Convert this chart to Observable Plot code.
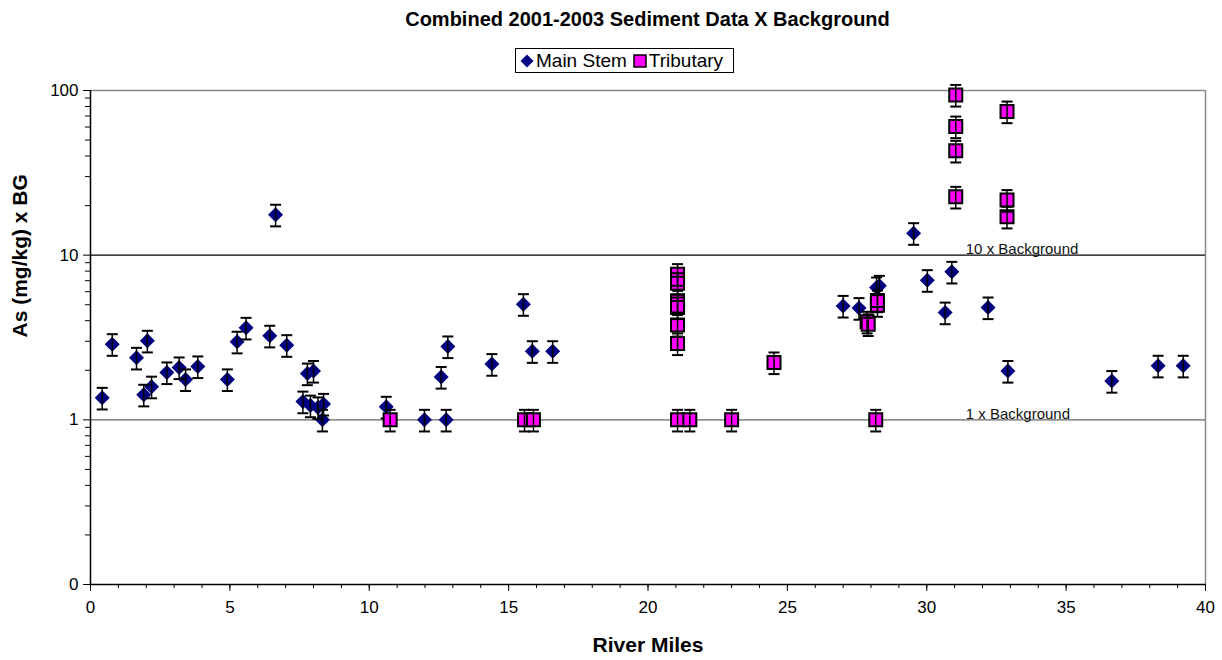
<!DOCTYPE html>
<html>
<head>
<meta charset="utf-8">
<script src="https://cdn.jsdelivr.net/npm/d3@7"></script>
<script src="https://cdn.jsdelivr.net/npm/@observablehq/plot@0.6"></script>
<style>
  html, body { margin: 0; padding: 0; background: #fff; }
  #wrap { position: relative; width: 1222px; height: 660px; font-family: "Liberation Sans", Arial, sans-serif; color: #000; }
  #title { position: absolute; left: 0; width: 1295px; top: 8px; text-align: center; font-weight: bold; font-size: 20px; }
  #legend { position: absolute; left: 515px; top: 48px; width: 217px; height: 23px; border: 1px solid #000; display: flex; align-items: center; font-size: 19px; white-space: nowrap; background: #fff; }
  #legend svg { margin: 0 2px 0 4px; }
  #chart { position: absolute; left: 0; top: 0; }
</style>
</head>
<body>
<div id="wrap">
  <div id="chart"></div>
  <div id="title">Combined 2001-2003 Sediment Data X Background</div>
  <div id="legend">
    <svg width="14" height="14"><path d="M7,0.5L13.5,7L7,13.5L0.5,7Z" fill="#000080"/></svg><span>Main Stem</span>
    <svg width="14" height="14" style="margin-left:6px"><rect x="1" y="1" width="12" height="12" fill="#FF00FF" stroke="#000" stroke-width="1.5"/></svg><span>Tributary</span>
  </div>
</div>
<script>
// Main stem samples: river mile and arsenic ratio to background
const mainMiles = [0.42, 0.78, 1.65, 1.91, 2.04, 2.19, 2.74, 3.18, 3.41, 3.85, 4.91, 5.26, 5.58, 6.43, 6.64, 7.04,
  7.62, 7.78, 8.0, 7.89, 8.16, 8.36, 8.32, 10.61, 11.98, 12.58, 12.76, 12.82, 14.4, 15.53, 15.85, 16.58,
  27.0, 27.57, 28.2, 28.3, 29.53, 30.02, 30.66, 30.9, 32.2, 32.91, 36.64, 38.3, 39.2];
const mainValues = [1.36, 2.88, 2.38, 1.42, 3.02, 1.59, 1.94, 2.08, 1.76, 2.11, 1.76, 2.98, 3.62, 3.24, 17.6, 2.84,
  1.29, 1.91, 1.98, 1.22, 1.19, 1.25, 1.0, 1.2, 1.0, 1.82, 1.0, 2.79, 2.18, 5.04, 2.61, 2.61,
  4.92, 4.77, 6.36, 6.51, 13.6, 7.05, 4.48, 7.92, 4.81, 1.98, 1.72, 2.13, 2.13];

// Tributary samples
const tribMiles = [10.75, 15.57, 15.89, 21.06, 21.06, 21.06, 21.06, 21.06, 21.06, 21.06, 21.5, 23.0, 24.52,
  27.86, 27.9, 28.17, 28.23, 28.23, 31.04, 31.04, 31.04, 31.04, 32.88, 32.88, 32.88];
const tribValues = [1, 1, 1, 7.67, 6.76, 5.28, 4.81, 3.77, 2.91, 1, 1, 1, 2.23,
  3.94, 3.8, 1, 4.97, 5.3, 94, 60.4, 43, 22.6, 74.5, 21.6, 17.1];

// Error bars: +/- 15 percent
const errorPct = 0.15;

// Axis ticks
const xMajorTicks = [0, 5, 10, 15, 20, 25, 30, 35, 40];
const xMinorTicks = d3.range(0, 41);
const yMajorTicks = [0.1, 1, 10, 100];
const yMinorTicks = [0.2,0.3,0.4,0.5,0.6,0.7,0.8,0.9, 2,3,4,5,6,7,8,9, 20,30,40,50,60,70,80,90];
const yTickLabels = {0.1: "0", 1: "1", 10: "10", 100: "100"};

// Reference lines
const refLines = [{v: 10, label: "10 x Background"}, {v: 1, label: "1 x Background"}];

const mainStem = mainMiles.map((x, i) => ({x, v: mainValues[i]}));
const tributary = tribMiles.map((x, i) => ({x, v: tribValues[i]}));

const diamond = {draw(c) { c.moveTo(0, -7.5); c.lineTo(7.5, 0); c.lineTo(0, 7.5); c.lineTo(-7.5, 0); c.closePath(); }};
const square = {draw(c) { c.rect(-6.5, -6.5, 13, 13); }};
const cap = {draw(c) { c.moveTo(-5.5, 0); c.lineTo(5.5, 0); }};

const errorMarks = (data) => [
  Plot.ruleX(data, {x: "x", y1: d => d.v * (1 - errorPct), y2: d => d.v * (1 + errorPct), stroke: "#000", strokeWidth: 1.5}),
  Plot.dot(data, {x: "x", y: d => d.v * (1 + errorPct), symbol: cap, stroke: "#000", strokeWidth: 2}),
  Plot.dot(data, {x: "x", y: d => d.v * (1 - errorPct), symbol: cap, stroke: "#000", strokeWidth: 2})
];

const chart = Plot.plot({
  width: 1222,
  height: 660,
  marginLeft: 90,
  marginRight: 17,
  marginTop: 90,
  marginBottom: 76,
  style: {fontFamily: "'Liberation Sans', Arial, sans-serif", fontSize: "17px", color: "#000", background: "transparent"},
  x: {domain: [0, 40]},
  y: {type: "log", domain: [0.1, 100]},
  marks: [
    // plot area border and gridlines
    Plot.ruleY([100], {stroke: "#888", strokeWidth: 1.5}),
    Plot.ruleX([40], {stroke: "#888", strokeWidth: 1.5}),
    Plot.ruleY([1], {stroke: "#666", strokeWidth: 1.2}),
    Plot.ruleY([10], {stroke: "#000", strokeWidth: 1.2}),
    // reference line labels
    Plot.text(refLines, {x: 31.4, y: "v", text: "label", textAnchor: "start", lineAnchor: "bottom", dy: -1, fontSize: 15, fill: "#111"}),
    // axes
    Plot.axisX(xMinorTicks, {tickSize: 4, tickFormat: () => "", label: null}),
    Plot.axisX(xMajorTicks, {tickSize: 7, tickPadding: 9, fontSize: 17, label: null}),
    Plot.axisY(yMinorTicks, {tickSize: 5, tickFormat: () => "", label: null}),
    Plot.axisY(yMajorTicks, {tickSize: 7, tickPadding: 5, fontSize: 17, tickFormat: d => yTickLabels[d], label: null}),
    Plot.ruleX([0], {stroke: "#000", strokeWidth: 1.5}),
    Plot.ruleY([0.1], {stroke: "#000", strokeWidth: 1.5}),
    // main stem series
    Plot.dot(mainStem, {x: "x", y: "v", symbol: diamond, fill: "#000080", stroke: "none"}),
    ...errorMarks(mainStem),
    // tributary series
    Plot.dot(tributary, {x: "x", y: "v", symbol: square, fill: "#FF00FF", stroke: "#000", strokeWidth: 2}),
    ...errorMarks(tributary),
    // axis titles
    Plot.text(["River Miles"], {frameAnchor: "bottom", dy: 67, text: d => d, fontWeight: "bold", fontSize: 21}),
    Plot.text(["As (mg/kg) x BG"], {frameAnchor: "left", dx: -70, rotate: -90, text: d => d, fontWeight: "bold", fontSize: 21})
  ]
});
document.getElementById("chart").appendChild(chart);
</script>
</body>
</html>
